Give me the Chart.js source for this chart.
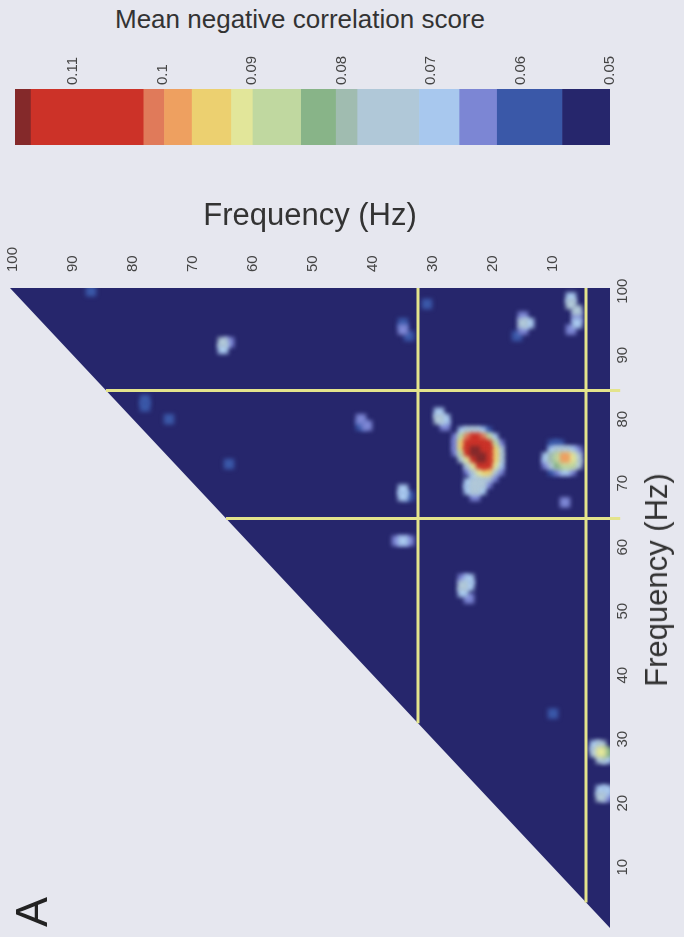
<!DOCTYPE html>
<html>
<head>
  <meta charset="utf-8">
  <title>Mean negative correlation score</title>
  <script src="https://cdn.jsdelivr.net/npm/chart.js"></script>
  <style>
    body {
      margin: 0;
      background-color: #e6e7ef;
      font-family: "Liberation Sans", Arial, sans-serif;
    }

    #pagina {
      position: relative;
      width: 684px;
      height: 937px;
      overflow: hidden;
    }

    #caixaBarra {
      position: absolute;
      left: 0;
      top: 40px;
      width: 684px;
      height: 110px;
    }

    #caixaMapa {
      position: absolute;
      left: 0;
      top: 180px;
      width: 684px;
      height: 757px;
    }

    .texto {
      position: absolute;
      color: #333;
      white-space: nowrap;
    }

    #titulo {
      left: 0;
      top: 4px;
      width: 600px;
      text-align: center;
      font-size: 26px;
      line-height: 30px;
    }

    #tituloDireita {
      left: 657px;
      top: 580px;
      font-size: 31px;
      transform: translate(-50%, -50%) rotate(-90deg);
    }

    #letra {
      left: 32px;
      top: 912px;
      font-size: 45px;
      color: #222;
      transform: translate(-50%, -50%) rotate(-90deg);
    }
  </style>
</head>

<body>
  <div id="pagina">
    <div id="titulo" class="texto">Mean negative correlation score</div>
    <div id="caixaBarra"><canvas id="barraCor"></canvas></div>
    <div id="caixaMapa"><canvas id="mapa"></canvas></div>
    <div id="tituloDireita" class="texto">Frequency (Hz)</div>
    <div id="letra" class="texto">A</div>
  </div>

  <script>
    // eixos
    var freqTicks = [10, 20, 30, 40, 50, 60, 70, 80, 90, 100];
    var scoreTicks = [0.11, 0.1, 0.09, 0.08, 0.07, 0.06, 0.05];
    var diagonal = [0.5, 100.5];

    // faixas da barra de cores (mapa de cores em degraus)
    var faixaInicio = [0.05, 0.0553, 0.0626, 0.0668, 0.0713, 0.0782, 0.0806, 0.0845, 0.0899, 0.0923, 0.0967, 0.0998, 0.1021, 0.1147];
    var faixaFim = [0.0553, 0.0626, 0.0668, 0.0713, 0.0782, 0.0806, 0.0845, 0.0899, 0.0923, 0.0967, 0.0998, 0.1021, 0.1147, 0.1165];
    var faixaCor = ['#26266c', '#3a58a8', '#7c86d4', '#a8c8ee', '#b0c8d8', '#a0bcb0', '#88b488', '#c0d8a0',
      '#e2e69a', '#ecd070', '#eea060', '#e07a5a', '#cc3228', '#84292a'];

    // linhas amarelas das bandas
    var linhaVerticalX = [32.5, 4.5];
    var linhaHorizontalY = [84.5, 64.5];

    // celulas acima do fundo (freq. horizontal, freq. vertical, score)
    var celulaX = [
      25, 24, 23, 22, 21,
      26, 25, 24, 23, 22, 21, 20,
      26, 25, 24, 23, 22, 21, 20, 19,
      26, 25, 24, 23, 22, 21, 20, 19,
      25, 24, 23, 22, 21, 20, 19,
      24, 23, 22, 21, 20, 19,
      24, 23, 22, 21, 20, 19,
      23, 22, 21, 20,
      24, 23, 22, 21,
      24, 23, 22,
      23,
      9, 10,
      10, 9, 8, 7, 6,
      11, 10, 9, 8, 7, 6,
      11, 10, 9, 8, 7, 6,
      10, 9, 8, 7,
      29, 29, 28, 28,
      35, 35, 34,
      7, 7, 6, 6, 6, 7,
      15, 15, 14, 15, 16,
      31,
      35, 35, 34,
      65, 65, 64,
      87,
      78, 78,
      74,
      42, 41, 42,
      64,
      8,
      36, 35, 34,
      25, 24, 25, 24, 25, 24,
      10,
      3, 2, 3, 2, 1, 2, 1,
      2, 1, 2, 1
    ];
    var celulaY = [
      78, 78, 78, 78, 78,
      77, 77, 77, 77, 77, 77, 77,
      76, 76, 76, 76, 76, 76, 76, 76,
      75, 75, 75, 75, 75, 75, 75, 75,
      74, 74, 74, 74, 74, 74, 74,
      73, 73, 73, 73, 73, 73,
      72, 72, 72, 72, 72, 72,
      71, 71, 71, 71,
      70, 70, 70, 70,
      69, 69, 69,
      68,
      76, 76,
      75, 75, 75, 75, 75,
      74, 74, 74, 74, 74, 74,
      73, 73, 73, 73, 73, 73,
      72, 72, 72, 72,
      81, 80, 80, 79,
      69, 68, 68,
      99, 98, 97, 96, 95, 94,
      96, 95, 95, 94, 93,
      98,
      95, 94, 93,
      92, 91, 92,
      100,
      83, 82,
      80,
      80, 79, 79,
      73,
      67,
      61, 61, 61,
      55, 55, 54, 54, 53, 52,
      34,
      29, 29, 28, 28, 28, 27, 27,
      22, 22, 21, 21
    ];
    var celulaScore = [
      0.068, 0.072, 0.072, 0.068, 0.062,
      0.064, 0.086, 0.100, 0.106, 0.100, 0.086, 0.068,
      0.066, 0.094, 0.110, 0.112, 0.110, 0.104, 0.088, 0.066,
      0.064, 0.088, 0.106, 0.116, 0.112, 0.110, 0.094, 0.072,
      0.074, 0.090, 0.106, 0.115, 0.110, 0.096, 0.074,
      0.074, 0.090, 0.108, 0.106, 0.092, 0.070,
      0.064, 0.076, 0.092, 0.094, 0.078, 0.064,
      0.070, 0.076, 0.072, 0.064,
      0.070, 0.078, 0.076, 0.066,
      0.068, 0.074, 0.070,
      0.064,
      0.060, 0.058,
      0.068, 0.072, 0.072, 0.070, 0.066,
      0.068, 0.080, 0.086, 0.097, 0.090, 0.078,
      0.066, 0.078, 0.084, 0.088, 0.086, 0.074,
      0.062, 0.066, 0.068, 0.066,
      0.068, 0.072, 0.070, 0.064,
      0.070, 0.068, 0.062,
      0.068, 0.074, 0.072, 0.066, 0.070, 0.064,
      0.066, 0.072, 0.068, 0.064, 0.062,
      0.062,
      0.060, 0.064, 0.060,
      0.072, 0.068, 0.066,
      0.062,
      0.062, 0.060,
      0.058,
      0.064, 0.066, 0.060,
      0.062,
      0.063,
      0.064, 0.070, 0.066,
      0.066, 0.070, 0.072, 0.070, 0.068, 0.064,
      0.060,
      0.070, 0.076, 0.078, 0.092, 0.082, 0.072, 0.070,
      0.068, 0.070, 0.072, 0.066
    ];

    var fonte = '"Liberation Sans", Arial, sans-serif';
    var amarelo = '#e4e48c';

    function corDoScore(valor) {
      for (var i = 0; i < faixaInicio.length; i++) {
        if (valor >= faixaInicio[i] && valor < faixaFim[i]) return faixaCor[i];
      }
      return valor < faixaInicio[0] ? faixaCor[0] : faixaCor[faixaCor.length - 1];
    }

    // desfoca as celulas para ficar parecido com a imagem suavizada
    var desfoque = {
      id: 'desfoque',
      beforeDatasetDraw(chart, args) {
        var b = chart.data.datasets[args.index].desfoque;
        if (b) {
          chart.ctx.save();
          chart.ctx.filter = 'blur(' + b + 'px)';
        }
      },
      afterDatasetDraw(chart, args) {
        if (chart.data.datasets[args.index].desfoque) chart.ctx.restore();
      }
    };

    // barra de cores
    new Chart(document.getElementById('barraCor'), {
      type: 'bar',
      data: {
        labels: ['score'],
        datasets: faixaCor.map(function (cor, i) {
          return {
            data: [[faixaInicio[i], faixaFim[i]]],
            backgroundColor: cor,
            borderWidth: 0,
            barPercentage: 1,
            categoryPercentage: 1,
            grouped: false
          };
        })
      },
      options: {
        indexAxis: 'y',
        responsive: true,
        maintainAspectRatio: false,
        animation: false,
        events: [],
        layout: { padding: { left: 15, right: 74, top: 0, bottom: 5 } },
        plugins: { legend: { display: false }, tooltip: { enabled: false } },
        scales: {
          x: {
            type: 'linear',
            position: 'top',
            reverse: true,
            min: 0.05,
            max: 0.1165,
            afterBuildTicks: function (s) { s.ticks = scoreTicks.map(function (v) { return { value: v }; }); },
            afterFit: function (s) { s.height = 49; },
            grid: { display: false, drawTicks: false },
            border: { display: false },
            ticks: {
              minRotation: 90,
              maxRotation: 90,
              autoSkip: false,
              padding: 4,
              labelOffset: 18,
              color: '#444',
              font: { size: 15, family: fonte },
              callback: function (v) { return String(v); }
            }
          },
          y: { display: false }
        }
      }
    });

    // mapa triangular
    // ordem de desenho: valores menores primeiro, os mais quentes por cima
    var ordem = celulaScore.map(function (s, i) { return i; });
    ordem.sort(function (a, b) { return celulaScore[a] - celulaScore[b]; });

    var conjuntos = [];

    conjuntos.push({
      type: 'line',
      data: diagonal.map(function (f) { return { x: f, y: f }; }),
      fill: 'end',
      backgroundColor: faixaCor[0],
      borderWidth: 0,
      pointRadius: 0,
      order: 3
    });

    conjuntos.push({
      type: 'scatter',
      data: ordem.map(function (i) { return { x: celulaX[i], y: celulaY[i], s: celulaScore[i] }; }),
      pointStyle: 'rect',
      pointRadius: function (c) {
        var s = c.chart.scales;
        var w = Math.abs(s.x.getPixelForValue(1) - s.x.getPixelForValue(0));
        var h = Math.abs(s.y.getPixelForValue(1) - s.y.getPixelForValue(0));
        return (Math.max(w, h) + 4) / Math.SQRT2;
      },
      backgroundColor: function (c) { return corDoScore(c.raw ? c.raw.s : 0.05); },
      borderWidth: 0,
      desfoque: 2,
      order: 2
    });

    linhaVerticalX.forEach(function (f) {
      conjuntos.push({
        type: 'line',
        data: [{ x: f, y: 100.5 }, { x: f, y: f }],
        borderColor: amarelo,
        borderWidth: 3,
        pointRadius: 0,
        fill: false,
        clip: false,
        order: 1
      });
    });

    linhaHorizontalY.forEach(function (f) {
      conjuntos.push({
        type: 'line',
        data: [{ x: f, y: f }, { x: -1.2, y: f }],
        borderColor: amarelo,
        borderWidth: 3,
        pointRadius: 0,
        fill: false,
        clip: false,
        order: 1
      });
    });

    new Chart(document.getElementById('mapa'), {
      type: 'scatter',
      data: { datasets: conjuntos },
      plugins: [desfoque],
      options: {
        responsive: true,
        maintainAspectRatio: false,
        animation: false,
        events: [],
        layout: { padding: { left: 10, right: 44, top: 0, bottom: 3 } },
        plugins: { legend: { display: false }, tooltip: { enabled: false } },
        scales: {
          x: {
            type: 'linear',
            position: 'top',
            reverse: true,
            min: 0.5,
            max: 100.5,
            afterBuildTicks: function (s) { s.ticks = freqTicks.map(function (v) { return { value: v }; }); },
            afterFit: function (s) { s.height = 108; },
            grid: { display: false, drawTicks: false },
            border: { display: false },
            ticks: {
              minRotation: 90,
              maxRotation: 90,
              autoSkip: false,
              padding: 16,
              labelOffset: 18,
              color: '#444',
              font: { size: 15, family: fonte }
            },
            title: {
              display: true,
              text: 'Frequency (Hz)',
              color: '#333',
              font: { size: 31, family: fonte },
              padding: { top: 18, bottom: 0 }
            }
          },
          y: {
            type: 'linear',
            position: 'right',
            min: 0.5,
            max: 100.5,
            afterBuildTicks: function (s) { s.ticks = freqTicks.map(function (v) { return { value: v }; }); },
            afterFit: function (s) { s.width = 30; },
            grid: { display: false, drawTicks: false },
            border: { display: false },
            ticks: {
              minRotation: 90,
              maxRotation: 90,
              autoSkip: false,
              crossAlign: 'center',
              padding: 0,
              color: '#444',
              font: { size: 15, family: fonte }
            }
          }
        }
      }
    });
  </script>
</body>
</html>
